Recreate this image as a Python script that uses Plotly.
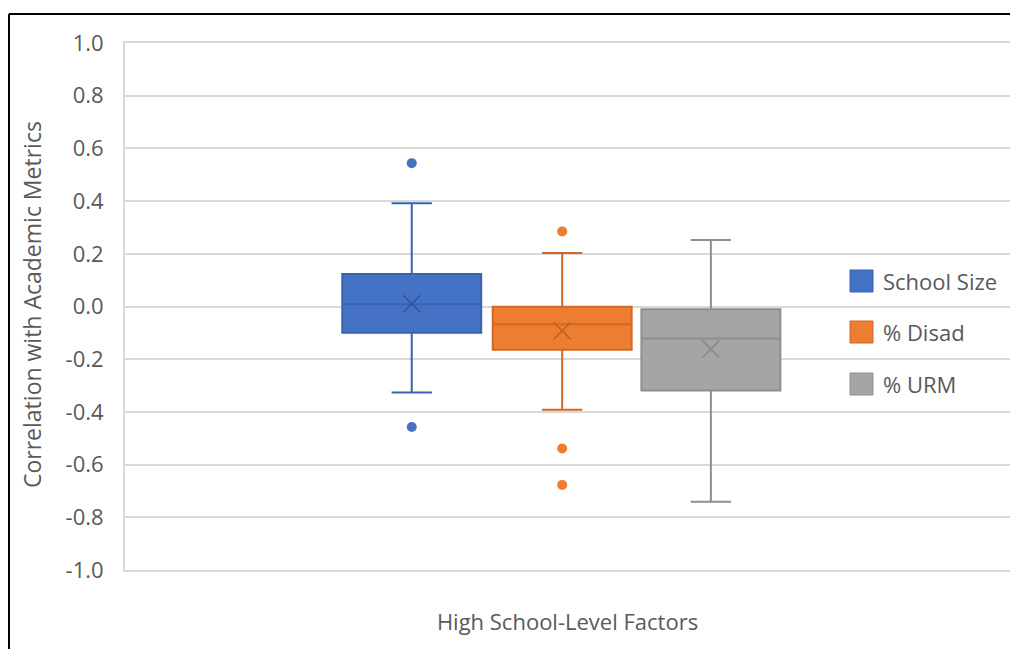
import plotly.graph_objects as go

# Summary statistics for each high school-level factor
factors = ["School Size", "% Disad", "% URM"]
q1 = [-0.100, -0.164, -0.319]
median = [0.009, -0.067, -0.121]
q3 = [0.123, -0.001, -0.010]
lower_whisker = [-0.326, -0.392, -0.741]
upper_whisker = [0.392, 0.203, 0.252]
mean = [0.010, -0.092, -0.162]
outliers = [[0.544, -0.457], [0.285, -0.539, -0.677], []]

tick_values = [-1.0, -0.8, -0.6, -0.4, -0.2, 0.0, 0.2, 0.4, 0.6, 0.8, 1.0]
tick_labels = ["-1.0", "-0.8", "-0.6", "-0.4", "-0.2", "0.0", "0.2", "0.4", "0.6", "0.8", "1.0"]

fills = ["#4472C4", "#ED7D31", "#A5A5A5"]
edges = ["#3963B0", "#D06A26", "#8E8E8E"]
mean_marks = ["#3258A0", "#C06020", "#8A8A8A"]

FONT = "Open Sans"
TEXT = "#595959"
GRID = "#D9D9D9"

W, H = 1010, 649
M_L, M_R, M_T, M_B = 125, 0, 43, 79
PLOT_W = W - M_L - M_R
PLOT_H = H - M_T - M_B


def px_x(p):
    """Pixel column -> paper x."""
    return (p - M_L) / PLOT_W


def px_y(p):
    """Pixel row -> paper y."""
    return (H - M_B - p) / PLOT_H


# Horizontal placement of the three boxes along the category axis
centers = [0.324, 0.494, 0.662]
box_w = 0.157

fig = go.Figure()

for i, name in enumerate(factors):
    fig.add_trace(go.Box(
        x=[centers[i]], q1=[q1[i]], median=[median[i]], q3=[q3[i]],
        lowerfence=[lower_whisker[i]], upperfence=[upper_whisker[i]],
        width=box_w, whiskerwidth=0.29,
        fillcolor=fills[i], line=dict(color=edges[i], width=2),
        name=name, showlegend=False, hoverinfo="skip",
    ))
    fig.add_trace(go.Scatter(
        x=[centers[i]], y=[mean[i]], mode="markers",
        marker=dict(symbol="x-thin", size=17, line=dict(width=1.6, color=mean_marks[i])),
        showlegend=False, hoverinfo="skip",
    ))
    if outliers[i]:
        fig.add_trace(go.Scatter(
            x=[centers[i]] * len(outliers[i]), y=outliers[i], mode="markers",
            marker=dict(symbol="circle", size=10, color=fills[i]),
            showlegend=False, hoverinfo="skip",
        ))

# Legend drawn as swatches + labels on the right side of the plot area
legend_rows = [281, 332, 384]
shapes = [
    dict(type="line", xref="paper", yref="paper", x0=px_x(9), x1=1.05, y0=px_y(14), y1=px_y(14),
         line=dict(color="black", width=2)),
    dict(type="line", xref="paper", yref="paper", x0=px_x(9), x1=px_x(9), y0=-0.2, y1=px_y(14),
         line=dict(color="black", width=2)),
]
annotations = [
    dict(text="Correlation with Academic Metrics", xref="paper", yref="paper",
         x=px_x(32), y=px_y(305), xanchor="center", yanchor="middle", textangle=-90,
         showarrow=False, font=dict(family=FONT, size=23, color=TEXT)),
]
for i, name in enumerate(factors):
    r = legend_rows[i]
    shapes.append(dict(
        type="rect", xref="paper", yref="paper",
        x0=px_x(850), x1=px_x(873), y0=px_y(r + 11), y1=px_y(r - 11),
        fillcolor=fills[i], line=dict(color=edges[i], width=1),
    ))
    annotations.append(dict(
        text=name, xref="paper", yref="paper", x=px_x(881), y=px_y(r),
        xanchor="left", yanchor="middle", showarrow=False,
        font=dict(family=FONT, size=22, color=TEXT),
    ))

fig.update_layout(
    width=W, height=H,
    margin=dict(l=M_L, r=M_R, t=M_T, b=M_B),
    paper_bgcolor="white", plot_bgcolor="white",
    font=dict(family=FONT, color=TEXT, size=22),
    showlegend=False,
    xaxis=dict(
        range=[0, 1], showgrid=False, zeroline=False, showticklabels=False,
        ticks="", fixedrange=True,
        showline=True, mirror=True, linecolor=GRID, linewidth=2,
        title=dict(text="High School-Level Factors", font=dict(size=22, color=TEXT), standoff=44),
    ),
    yaxis=dict(
        range=[-1.0, 1.0], tickvals=tick_values, ticktext=tick_labels,
        showgrid=True, gridcolor=GRID, gridwidth=2,
        zeroline=False, showline=True, linecolor=GRID, linewidth=2,
        ticks="", ticklabelstandoff=15,
        tickfont=dict(size=22, color=TEXT),
    ),
    annotations=annotations,
    shapes=shapes,
)

fig.write_html("out.html")
